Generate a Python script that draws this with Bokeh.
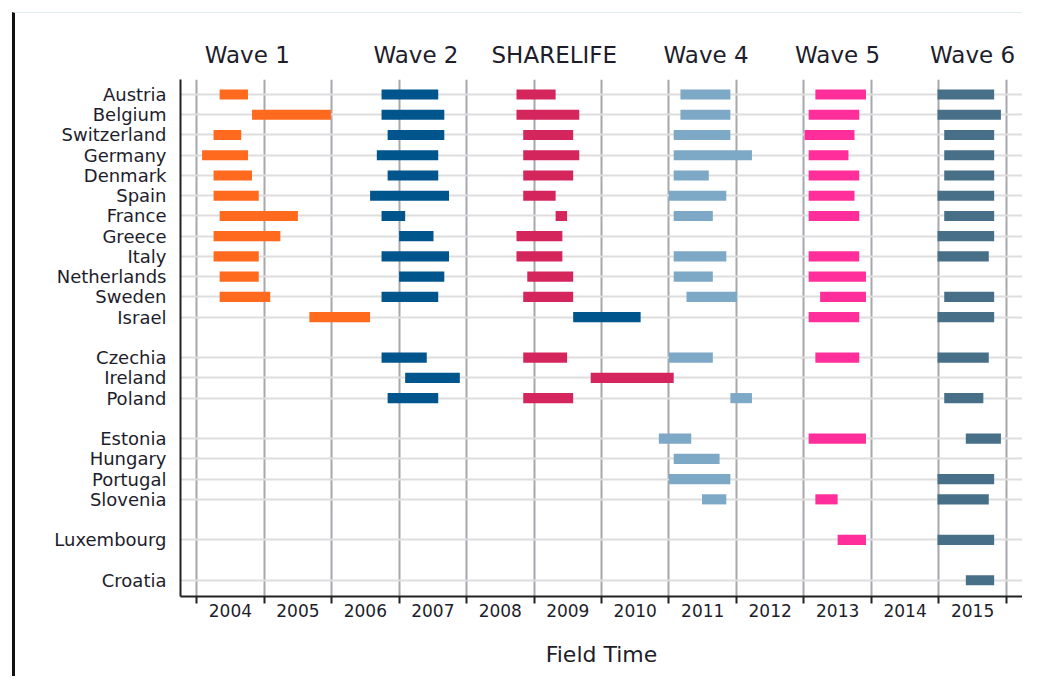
from bokeh.plotting import figure
from bokeh.models import FixedTicker, LinearAxis, Range1d, ColumnDataSource
from bokeh.embed import file_html
from bokeh.resources import INLINE

countries = ["Austria", "Belgium", "Switzerland", "Germany", "Denmark", "Spain",
             "France", "Greece", "Italy", "Netherlands", "Sweden", "Israel",
             "Czechia", "Ireland", "Poland",
             "Estonia", "Hungary", "Portugal", "Slovenia",
             "Luxembourg",
             "Croatia"]
group_sizes = [12, 3, 4, 1, 1]

year_labels = ["2004", "2005", "2006", "2007", "2008", "2009",
               "2010", "2011", "2012", "2013", "2014", "2015"]

wave_names = ["Wave 1", "Wave 2", "SHARELIFE", "Wave 4", "Wave 5", "Wave 6"]
wave_title_x = [2004.75, 2007.25, 2009.3, 2011.55, 2013.5, 2015.5]
wave_colors = ["#ff6a1f", "#00558c", "#d4255c", "#7da8c6", "#ff2e9a", "#476f87"]

N = None
wave1_start = [2004.34, 2004.82, 2004.25, 2004.08, 2004.25, 2004.25, 2004.34, 2004.25, 2004.25, 2004.34, 2004.34, 2005.67,
               N, N, N, N, N, N, N, N, N]
wave1_end = [2004.76, 2005.99, 2004.66, 2004.76, 2004.82, 2004.92, 2005.50, 2005.24, 2004.92, 2004.92, 2005.09, 2006.57,
             N, N, N, N, N, N, N, N, N]

wave2_start = [2006.74, 2006.74, 2006.83, 2006.67, 2006.83, 2006.57, 2006.74, 2007.00, 2006.74, 2007.00, 2006.74, 2009.58,
               2006.74, 2007.09, 2006.83, N, N, N, N, N, N]
wave2_end = [2007.58, 2007.67, 2007.67, 2007.58, 2007.58, 2007.74, 2007.09, 2007.51, 2007.74, 2007.67, 2007.58, 2010.58,
             2007.41, 2007.90, 2007.58, N, N, N, N, N, N]

sharelife_start = [2008.74, 2008.74, 2008.84, 2008.84, 2008.84, 2008.84, 2009.32, 2008.74, 2008.74, 2008.90, 2008.84, N,
                   2008.84, 2009.84, 2008.84, N, N, N, N, N, N]
sharelife_end = [2009.32, 2009.67, 2009.58, 2009.67, 2009.58, 2009.32, 2009.49, 2009.42, 2009.42, 2009.58, 2009.58, N,
                 2009.49, 2011.07, 2009.58, N, N, N, N, N, N]

wave4_start = [2011.17, 2011.17, 2011.07, 2011.07, 2011.07, 2011.00, 2011.07, N, 2011.07, 2011.07, 2011.26, N,
               2011.00, N, 2011.91, 2010.85, 2011.07, 2011.00, 2011.49, N, N]
wave4_end = [2011.91, 2011.91, 2011.91, 2012.23, 2011.59, 2011.85, 2011.65, N, 2011.85, 2011.65, 2012.01, N,
             2011.65, N, 2012.23, 2011.33, 2011.75, 2011.91, 2011.85, N, N]

wave5_start = [2013.17, 2013.07, 2013.01, 2013.07, 2013.07, 2013.07, 2013.07, N, 2013.07, 2013.07, 2013.24, 2013.07,
               2013.17, N, N, 2013.07, N, N, 2013.17, 2013.50, N]
wave5_end = [2013.92, 2013.82, 2013.75, 2013.66, 2013.82, 2013.75, 2013.82, N, 2013.82, 2013.92, 2013.92, 2013.82,
             2013.82, N, N, 2013.92, N, N, 2013.50, 2013.92, N]

wave6_start = [2014.98, 2014.98, 2015.08, 2015.08, 2015.08, 2014.98, 2015.08, 2014.98, 2014.98, N, 2015.08, 2014.98,
               2014.98, N, 2015.08, 2015.40, N, 2014.98, 2014.98, 2014.98, 2015.40]
wave6_end = [2015.82, 2015.92, 2015.82, 2015.82, 2015.82, 2015.82, 2015.82, 2015.82, 2015.74, N, 2015.82, 2015.82,
             2015.74, N, 2015.66, 2015.92, N, 2015.82, 2015.74, 2015.82, 2015.82]

waves = [(wave1_start, wave1_end), (wave2_start, wave2_end), (sharelife_start, sharelife_end),
         (wave4_start, wave4_end), (wave5_start, wave5_end), (wave6_start, wave6_end)]

# row positions: one empty slot between country groups
ypos = []
slot = 0
for n in group_sizes:
    for _ in range(n):
        ypos.append(slot)
        slot += 1
    slot += 1

first_year = int(year_labels[0])
boundaries = [first_year + i for i in range(len(year_labels) + 1)]
mids = [first_year + i + 0.5 for i in range(len(year_labels))]

TXT = "#1d1d2b"
FONT = "DejaVu Sans"

p = figure(width=1010, height=664, output_backend="svg", toolbar_location=None,
           x_range=Range1d(2003.76, 2016.24), y_range=Range1d(24.8, -0.74),
           min_border_left=165, min_border_right=3, min_border_top=66, min_border_bottom=81)
p.outline_line_color = None
p.background_fill_color = "white"
p.border_fill_color = "white"

for (st, en), col in zip(waves, wave_colors):
    ys, ls, rs = [], [], []
    for y, s, e in zip(ypos, st, en):
        if s is not None and e is not None:
            ys.append(y); ls.append(s); rs.append(e)
    src = ColumnDataSource(dict(y=ys, left=ls, right=rs))
    p.hbar(y="y", left="left", right="right", height=0.5, source=src,
           fill_color=col, line_color=None)

# x axis (bottom)
xa = p.xaxis[0]
xa.ticker = FixedTicker(ticks=mids, minor_ticks=boundaries)
xa.major_label_overrides = {m: lab for m, lab in zip(mids, year_labels)}
xa.major_tick_line_color = None
xa.major_tick_out = 0
xa.major_tick_in = 0
xa.minor_tick_line_color = "#222222"
xa.minor_tick_line_width = 2
xa.minor_tick_out = 7
xa.minor_tick_in = 0
xa.axis_line_color = "#222222"
xa.axis_line_width = 2
xa.major_label_text_font = FONT
xa.major_label_text_font_size = "17px"
xa.major_label_text_color = TXT
xa.major_label_standoff = 0
xa.axis_label = "Field Time"
xa.axis_label_text_font = FONT
xa.axis_label_text_font_size = "22px"
xa.axis_label_text_font_style = "normal"
xa.axis_label_text_color = TXT
xa.axis_label_standoff = 22

# y axis (left)
ya = p.yaxis[0]
ya.ticker = FixedTicker(ticks=ypos)
ya.major_label_overrides = {y: c for y, c in zip(ypos, countries)}
ya.major_tick_line_color = None
ya.major_tick_out = 0
ya.major_tick_in = 0
ya.minor_tick_line_color = None
ya.minor_tick_out = 0
ya.axis_line_color = "#222222"
ya.axis_line_width = 2
ya.major_label_text_font = FONT
ya.major_label_text_font_size = "18px"
ya.major_label_text_color = TXT
ya.major_label_standoff = 14

# grids
p.xgrid.ticker = FixedTicker(ticks=boundaries)
p.xgrid.grid_line_color = "#a7a7ae"
p.xgrid.grid_line_width = 2
p.ygrid.grid_line_color = "#dedede"
p.ygrid.grid_line_width = 2

# wave titles on top
ta = LinearAxis(ticker=FixedTicker(ticks=wave_title_x),
                major_label_overrides={x: w for x, w in zip(wave_title_x, wave_names)},
                axis_line_color=None, major_tick_line_color=None, minor_tick_line_color=None,
                major_tick_out=0, minor_tick_out=0,
                major_label_text_font=FONT, major_label_text_font_size="23px",
                major_label_text_color=TXT, major_label_standoff=12)
p.add_layout(ta, "above")

p.styles = {"margin-left": "12px", "margin-top": "12px",
            "border-left": "3px solid #111111", "border-top": "1px solid #e3eaed"}

open("out.html", "w").write(file_html(p, INLINE))
